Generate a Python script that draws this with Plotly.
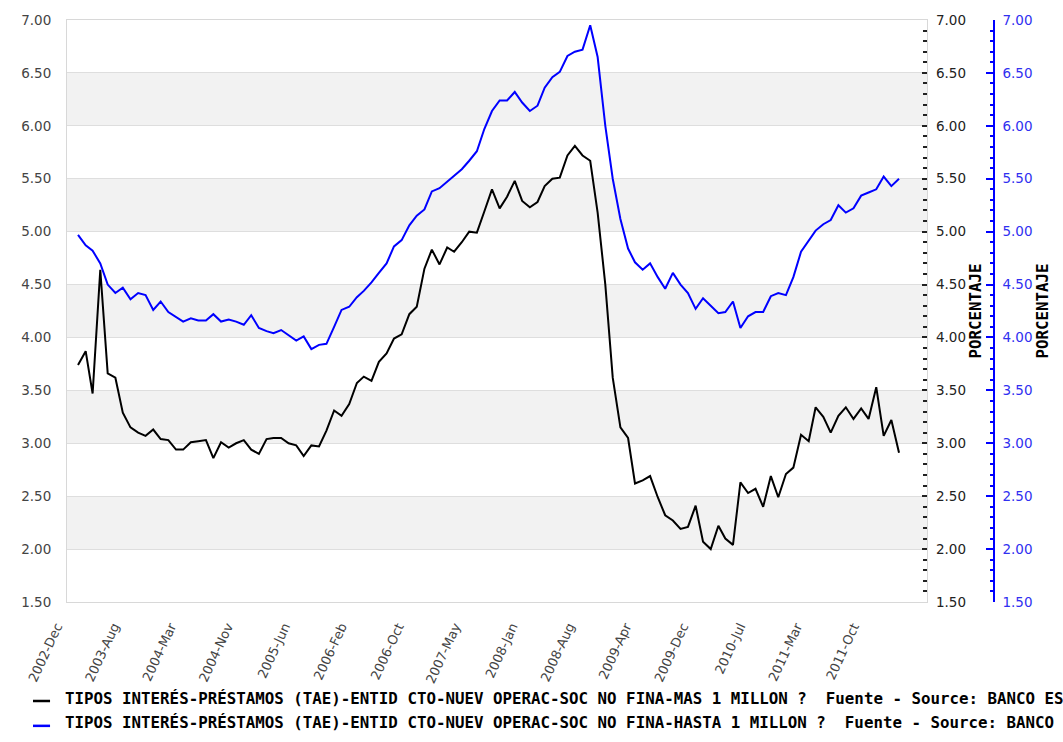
import pandas as pd
import plotly.graph_objects as go

# ---------------- data ----------------
START_MONTH = "2003-01-01"

MAS_1_MILLON = [
    3.74, 3.87, 3.47, 4.64, 3.66, 3.62, 3.29, 3.15, 3.10, 3.07,
    3.13, 3.04, 3.03, 2.94, 2.94, 3.01, 3.02, 3.03, 2.86, 3.01,
    2.96, 3.00, 3.03, 2.94, 2.90, 3.04, 3.05, 3.05, 3.00, 2.98,
    2.88, 2.98, 2.97, 3.12, 3.31, 3.26, 3.37, 3.57, 3.63, 3.59,
    3.77, 3.85, 3.99, 4.03, 4.22, 4.29, 4.65, 4.83, 4.69, 4.85,
    4.81, 4.90, 5.00, 4.99, 5.19, 5.40, 5.22, 5.33, 5.48, 5.29,
    5.23, 5.28, 5.43, 5.50, 5.51, 5.72, 5.81, 5.72, 5.67, 5.18,
    4.50, 3.62, 3.15, 3.05, 2.62, 2.65, 2.69, 2.49, 2.32, 2.27,
    2.19, 2.21, 2.41, 2.07, 2.00, 2.22, 2.10, 2.04, 2.63, 2.53,
    2.57, 2.40, 2.69, 2.49, 2.71, 2.77, 3.08, 3.02, 3.34, 3.25,
    3.10, 3.26, 3.34, 3.23, 3.33, 3.23, 3.53, 3.07, 3.22, 2.91,
]

HASTA_1_MILLON = [
    4.97, 4.87, 4.82, 4.70, 4.50, 4.42, 4.47, 4.36, 4.42, 4.40,
    4.26, 4.34, 4.24, 4.19, 4.15, 4.18, 4.16, 4.16, 4.22, 4.15,
    4.17, 4.15, 4.12, 4.21, 4.09, 4.06, 4.04, 4.07, 4.02, 3.97,
    4.01, 3.89, 3.93, 3.94, 4.10, 4.26, 4.29, 4.38, 4.44, 4.52,
    4.61, 4.70, 4.86, 4.92, 5.06, 5.15, 5.21, 5.38, 5.41, 5.47,
    5.53, 5.59, 5.67, 5.76, 5.97, 6.14, 6.24, 6.24, 6.32, 6.22,
    6.14, 6.19, 6.36, 6.46, 6.51, 6.66, 6.70, 6.72, 6.95, 6.65,
    6.00, 5.50, 5.12, 4.84, 4.71, 4.64, 4.70, 4.57, 4.46, 4.61,
    4.50, 4.42, 4.27, 4.37, 4.30, 4.23, 4.24, 4.34, 4.09, 4.20,
    4.24, 4.24, 4.39, 4.42, 4.40, 4.57, 4.81, 4.92, 5.01, 5.07,
    5.11, 5.25, 5.18, 5.22, 5.34, 5.37, 5.40, 5.52, 5.43, 5.50,
]

TICK_LABELS = [
    "2002-Dec", "2003-Aug", "2004-Mar", "2004-Nov", "2005-Jun",
    "2006-Feb", "2006-Oct", "2007-May", "2008-Jan", "2008-Aug",
    "2009-Apr", "2009-Dec", "2010-Jul", "2011-Mar", "2011-Oct",
]

NAME_MAS = ("TIPOS INTERÉS-PRÉSTAMOS (TAE)-ENTID CTO-NUEV OPERAC-SOC NO "
            "FINA-MAS 1 MILLON ?  Fuente - Source: BANCO ESPAÑA")
NAME_HASTA = ("TIPOS INTERÉS-PRÉSTAMOS (TAE)-ENTID CTO-NUEV OPERAC-SOC NO "
              "FINA-HASTA 1 MILLON ?  Fuente - Source: BANCO ESPAÑA")
Y_TITLE = "PORCENTAJE"

# ---------------- styling ----------------
BLACK = "#000000"
BLUE = "#0000ff"
BLUE_TXT = "#3030f0"
GRID = "#dedede"
BAND = "#f2f2f2"
BORDER = "#d8d8d8"
TICK_FONT = dict(family="DejaVu Sans", size=13.5, color="#444444")
XTICK_FONT = dict(family="DejaVu Sans", size=13, color="#444444")
MONO_BOLD = dict(family="DejaVu Sans Mono", size=15.8, color="#000000", weight="bold")

Y_MIN, Y_MAX, Y_STEP = 1.5, 7.0, 0.5
X_RANGE = ["2002-11-17 12:00", "2012-05-24"]
TICK_START = "2002-11-21"
TICK_STEP = "230D"
X_DOMAIN_END = 0.9277

dates = pd.date_range(START_MONTH, periods=len(MAS_1_MILLON), freq="MS")
tick_dates = pd.date_range(TICK_START, periods=len(TICK_LABELS), freq=TICK_STEP)

fig = go.Figure()
fig.add_trace(go.Scatter(x=dates, y=MAS_1_MILLON, mode="lines", name=NAME_MAS,
                         line=dict(color=BLACK, width=2), yaxis="y", showlegend=False))
fig.add_trace(go.Scatter(x=dates, y=HASTA_1_MILLON, mode="lines", name=NAME_HASTA,
                         line=dict(color=BLUE, width=2), yaxis="y3", showlegend=False))
# empty helper so the secondary black scale (same units as the left axis) is drawn
fig.add_trace(go.Scatter(x=[], y=[], yaxis="y2", showlegend=False, hoverinfo="skip"))

# alternating bands
shapes = []
n_int = int(round((Y_MAX - Y_MIN) / Y_STEP))
for k in range(n_int):
    lo = Y_MIN + k * Y_STEP
    if k % 2 == 1:
        shapes.append(dict(type="rect", xref="x domain", yref="y", x0=0, x1=1,
                           y0=lo, y1=lo + Y_STEP, fillcolor=BAND, line=dict(width=0),
                           layer="below"))

# custom legend (line swatches + text)
legend_rows = [(NAME_MAS, BLACK, -0.1701, -0.1650), (NAME_HASTA, BLUE, -0.2128, -0.2077)]
annotations = []
for name, col, yl, yt in legend_rows:
    shapes.append(dict(type="line", xref="paper", yref="paper", x0=-0.0367, x1=-0.0183,
                       y0=yl, y1=yl, line=dict(color=col, width=2.5)))
    annotations.append(dict(text=name, xref="paper", yref="paper", x=-0.0046, y=yt,
                            xanchor="left", yanchor="middle", showarrow=False,
                            font=MONO_BOLD))

common_y = dict(range=[Y_MIN, Y_MAX], tick0=Y_MIN, dtick=Y_STEP, tickformat=".2f",
                zeroline=False, fixedrange=True)

fig.update_layout(
    width=1063, height=742,
    margin=dict(l=67, r=69, t=16, b=140, pad=0),
    paper_bgcolor="white", plot_bgcolor="white",
    showlegend=False,
    shapes=shapes, annotations=annotations,
    xaxis=dict(domain=[0, X_DOMAIN_END], type="date", range=X_RANGE,
               tickmode="array", tickvals=tick_dates, ticktext=TICK_LABELS,
               tickangle=-65, tickfont=XTICK_FONT, showgrid=False, ticks="",
               ticklabelstandoff=11, ticklabelshift=-11,
               showline=True, linecolor=BORDER, linewidth=1, mirror=True,
               zeroline=False),
    yaxis=dict(**common_y, showgrid=True, gridcolor=GRID, gridwidth=1,
               showline=True, linecolor=BORDER, linewidth=1, mirror=True,
               ticks="", tickfont=TICK_FONT, ticklabelstandoff=12),
    yaxis2=dict(**common_y, overlaying="y", side="right", anchor="x",
                showgrid=False, showline=False, ticks="inside", ticklen=5,
                tickcolor="#222222", tickwidth=1.5,
                minor=dict(dtick=0.1, ticks="inside", ticklen=4, tickcolor="#222222",
                           tickwidth=1.5, showgrid=False),
                tickfont=dict(family="DejaVu Sans", size=13.5, color="#222222"),
                ticklabelstandoff=8,
                title=dict(text=Y_TITLE, font=MONO_BOLD, standoff=0)),
    yaxis3=dict(**common_y, overlaying="y", side="right", anchor="free", position=1.0,
                showgrid=False, showline=True, linecolor=BLUE, linewidth=1.5,
                ticks="inside", ticklen=7, tickcolor=BLUE, tickwidth=1.5,
                minor=dict(dtick=0.1, ticks="inside", ticklen=3, tickcolor=BLUE,
                           tickwidth=1.5, showgrid=False),
                tickfont=dict(family="DejaVu Sans", size=13.5, color=BLUE_TXT),
                ticklabelstandoff=5,
                title=dict(text=Y_TITLE, font=MONO_BOLD, standoff=0)),
)

fig.write_html("out.html", config={"displayModeBar": False},
               post_script="document.body.style.margin='0';")
